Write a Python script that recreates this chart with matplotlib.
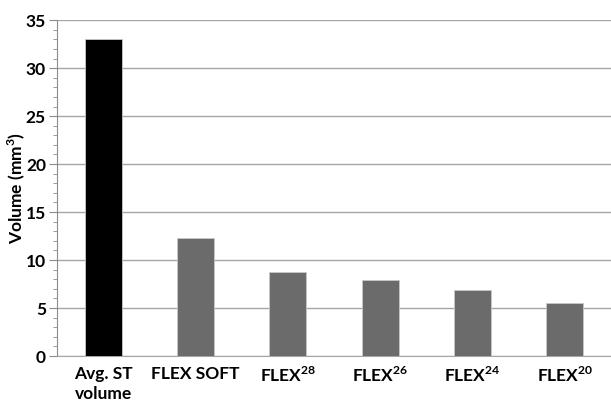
import numpy as np
import matplotlib.pyplot as plt
from matplotlib.ticker import MultipleLocator

labels = ['Avg. ST\nvolume', 'FLEX SOFT', r'FLEX$^{\mathbf{28}}$', r'FLEX$^{\mathbf{26}}$',
          r'FLEX$^{\mathbf{24}}$', r'FLEX$^{\mathbf{20}}$']
volumes = [33.0, 12.3, 8.8, 7.9, 6.9, 5.5]
colors = ['#000000', '#6b6b6b', '#6b6b6b', '#6b6b6b', '#6b6b6b', '#6b6b6b']

plt.rcParams['font.family'] = ['Lato', 'DejaVu Sans']
plt.rcParams['font.weight'] = 'bold'
plt.rcParams['mathtext.fontset'] = 'custom'
plt.rcParams['mathtext.bf'] = 'Lato:bold'
plt.rcParams['mathtext.rm'] = 'Lato:bold'

fig = plt.figure(figsize=(6.11, 4.03), dpi=100)
ax = fig.add_axes([0.0933, 0.1166, 0.9067, 0.8334])

x = np.arange(len(volumes))
ax.bar(x, volumes, width=0.4, color=colors, edgecolor='#c8c8c8', linewidth=0.6, zorder=3)

ax.set_xlim(-0.5, 5.5)
ax.set_ylim(0, 35)
ax.yaxis.set_major_locator(MultipleLocator(5))
ax.yaxis.set_minor_locator(MultipleLocator(1))
ax.grid(axis='y', color='#a6a6a6', linewidth=1, zorder=0)

for s in ['top', 'right']:
    ax.spines[s].set_visible(False)
ax.spines['left'].set_color('#8c8c8c')
ax.spines['bottom'].set_color('#a6a6a6')

ax.set_xticks(x)
ax.set_xticklabels(labels, fontsize=12.5, fontweight='bold', va='top', linespacing=1.35)
ax.tick_params(axis='x', length=0, pad=7)
ax.tick_params(axis='y', which='major', length=6, color='#8c8c8c', labelsize=12.5, pad=2)
ax.tick_params(axis='y', which='minor', length=3, color='#8c8c8c')

ax.set_ylabel(r'Volume (mm$^{\mathbf{3}}$)', fontsize=12.5, fontweight='bold')
ax.yaxis.set_label_coords(-0.054, 0.5)

fig.savefig('out.png', dpi=100)
